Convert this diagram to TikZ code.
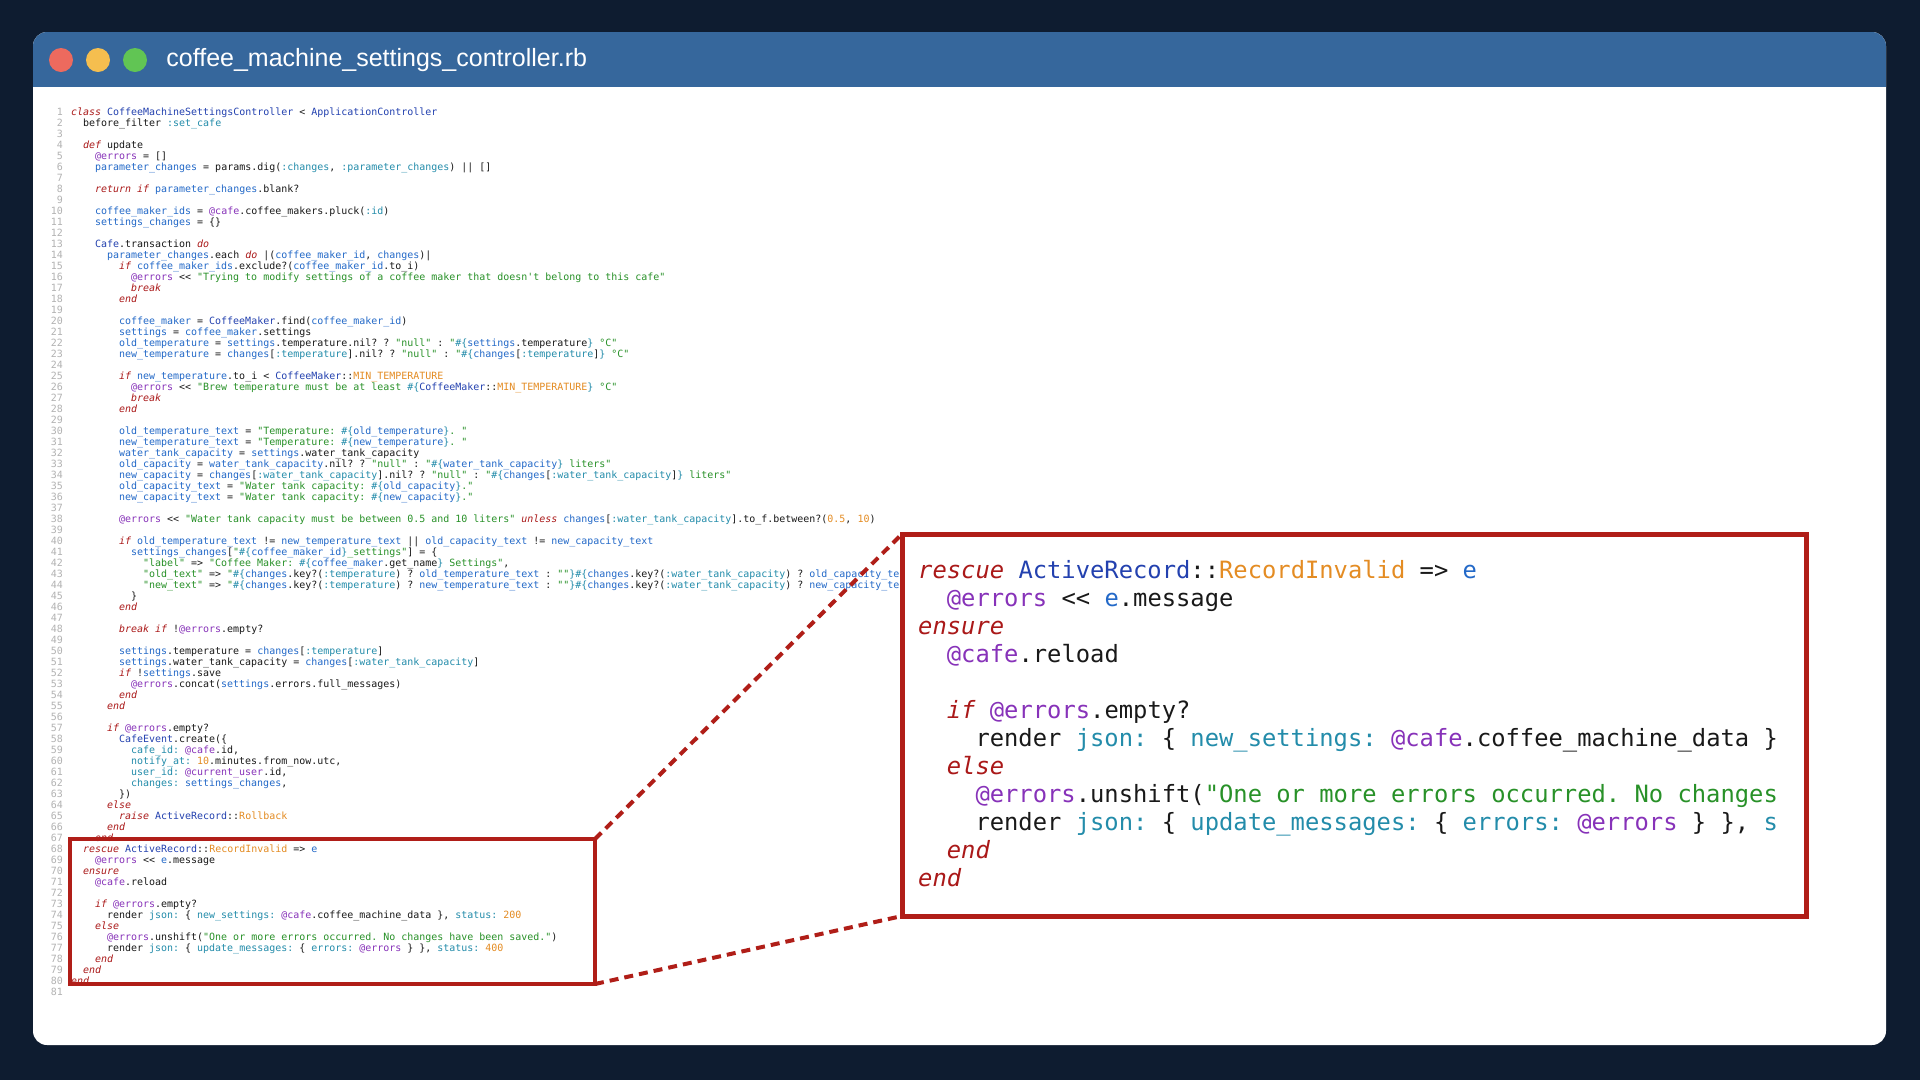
\documentclass[tikz,border=0pt]{standalone}
\usepackage{fontspec}
\setmonofont{DejaVu Sans Mono}
\newfontfamily\titlefont{Liberation Sans}
\usepackage{tikz}
\usetikzlibrary{positioning}
\usepackage{xcolor}
\definecolor{bgnavy}{RGB}{14,28,48}
\definecolor{barblue}{RGB}{54,103,156}
\definecolor{dotred}{RGB}{237,106,94}
\definecolor{dotyellow}{RGB}{245,190,79}
\definecolor{dotgreen}{RGB}{97,197,84}
\definecolor{boxred}{RGB}{176,30,24}
\definecolor{rbplain}{RGB}{25,25,25}
\definecolor{rbgray}{RGB}{178,178,178}
\definecolor{rbkwc}{RGB}{170,25,25}
\definecolor{rbcnc}{RGB}{35,65,175}
\definecolor{rbvrc}{RGB}{35,105,200}
\definecolor{rbsyc}{RGB}{35,140,170}
\definecolor{rbivc}{RGB}{135,50,185}
\definecolor{rbstc}{RGB}{40,145,40}
\definecolor{rbnmc}{RGB}{228,140,35}
% ruby highlighting
\newcommand{\rbkw}[1]{{\color{rbkwc}\itshape\relax#1}}
\newcommand{\rbcn}[1]{{\color{rbcnc}\relax#1}}
\newcommand{\rbvr}[1]{{\color{rbvrc}\relax#1}}
\newcommand{\rbsy}[1]{{\color{rbsyc}\relax#1}}
\newcommand{\rbiv}[1]{{\color{rbivc}\relax#1}}
\newcommand{\rbst}[1]{{\color{rbstc}\relax#1}}
\newcommand{\rbnm}[1]{{\color{rbnmc}\relax#1}}
\newcommand{\rbip}[1]{{\color{rbsyc}\#\{}#1{\color{rbsyc}\}}}

\begin{document}
\catcode`\_=12
\begin{tikzpicture}[x=1pt, y=-1pt,
    dot/.style={circle, inner sep=0pt, minimum size=24pt},
    lineno/.style={anchor=base east, inner sep=0pt, text=rbgray, font=\ttfamily\fontsize{9.97}{11}\selectfont},
    codeline/.style={anchor=base west, inner sep=0pt, text=rbplain, font=\ttfamily\fontsize{9.97}{11}\selectfont},
    zoomline/.style={anchor=base west, inner sep=0pt, text=rbplain, font=\ttfamily\fontsize{23.8}{28}\selectfont},
    srcbox/.style={rectangle, draw=boxred, line width=4pt, inner sep=0pt, outer sep=0pt},
    zoombox/.style={rectangle, draw=boxred, fill=white, line width=5pt, inner sep=0pt, outer sep=0pt},
    zoomlink/.style={boxred, line width=4pt, dash pattern=on 9pt off 6pt}]

\useasboundingbox (0,0) rectangle (1920,1080);

% background and window
\fill[bgnavy] (0,0) rectangle (1920,1080);
\fill[white, rounded corners=14pt] (33,32) rectangle (1886,1045);
\begin{scope}
\clip[rounded corners=14pt] (33,32) rectangle (1886,1045);
\fill[barblue] (33,32) rectangle (1886,87);
\end{scope}

% title bar
\node[dot, fill=dotred] (dot1) at (61,60) {};
\node[dot, fill=dotyellow] (dot2) at (98,60) {};
\node[dot, fill=dotgreen] (dot3) at (135,60) {};
\node[right=19pt of dot3, inner sep=0pt, text=white, font=\titlefont\fontsize{25}{30}\selectfont] (title) {coffee_machine_settings_controller.rb};

% line numbers
\foreach \i in {1,...,81}
    \node[lineno] (n\i) at (63, {104.5+11*\i}) {\i};

% source
\node[codeline] (c1) at (71,115.5) {\rbkw{class} \rbcn{CoffeeMachineSettingsController} < \rbcn{ApplicationController}};
\node[codeline] (c2) at (83,126.5) {before_filter \rbsy{:set_cafe}};
\node[codeline] (c4) at (83,148.5) {\rbkw{def} update};
\node[codeline] (c5) at (95,159.5) {\rbiv{@errors} = []};
\node[codeline] (c6) at (95,170.5) {\rbvr{parameter_changes} = params.dig(\rbsy{:changes}, \rbsy{:parameter_changes}) || []};
\node[codeline] (c8) at (95,192.5) {\rbkw{return if} \rbvr{parameter_changes}.blank?};
\node[codeline] (c10) at (95,214.5) {\rbvr{coffee_maker_ids} = \rbiv{@cafe}.coffee_makers.pluck(\rbsy{:id})};
\node[codeline] (c11) at (95,225.5) {\rbvr{settings_changes} = \{\}};
\node[codeline] (c13) at (95,247.5) {\rbcn{Cafe}.transaction \rbkw{do}};
\node[codeline] (c14) at (107,258.5) {\rbvr{parameter_changes}.each \rbkw{do} |(\rbvr{coffee_maker_id}, \rbvr{changes})|};
\node[codeline] (c15) at (119,269.5) {\rbkw{if} \rbvr{coffee_maker_ids}.exclude?(\rbvr{coffee_maker_id}.to_i)};
\node[codeline] (c16) at (131,280.5) {\rbiv{@errors} << \rbst{"Trying to modify settings of a coffee maker that doesn't belong to this cafe"}};
\node[codeline] (c17) at (131,291.5) {\rbkw{break}};
\node[codeline] (c18) at (119,302.5) {\rbkw{end}};
\node[codeline] (c20) at (119,324.5) {\rbvr{coffee_maker} = \rbcn{CoffeeMaker}.find(\rbvr{coffee_maker_id})};
\node[codeline] (c21) at (119,335.5) {\rbvr{settings} = \rbvr{coffee_maker}.settings};
\node[codeline] (c22) at (119,346.5) {\rbvr{old_temperature} = \rbvr{settings}.temperature.nil? ? \rbst{"null"} : \rbst{"}\rbip{\rbvr{settings}.temperature}\rbst{ °C"}};
\node[codeline] (c23) at (119,357.5) {\rbvr{new_temperature} = \rbvr{changes}[\rbsy{:temperature}].nil? ? \rbst{"null"} : \rbst{"}\rbip{\rbvr{changes}[\rbsy{:temperature}]}\rbst{ °C"}};
\node[codeline] (c25) at (119,379.5) {\rbkw{if} \rbvr{new_temperature}.to_i < \rbcn{CoffeeMaker}::\rbnm{MIN_TEMPERATURE}};
\node[codeline] (c26) at (131,390.5) {\rbiv{@errors} << \rbst{"Brew temperature must be at least }\rbip{\rbcn{CoffeeMaker}::\rbnm{MIN_TEMPERATURE}}\rbst{ °C"}};
\node[codeline] (c27) at (131,401.5) {\rbkw{break}};
\node[codeline] (c28) at (119,412.5) {\rbkw{end}};
\node[codeline] (c30) at (119,434.5) {\rbvr{old_temperature_text} = \rbst{"Temperature: }\rbip{\rbvr{old_temperature}}\rbst{. "}};
\node[codeline] (c31) at (119,445.5) {\rbvr{new_temperature_text} = \rbst{"Temperature: }\rbip{\rbvr{new_temperature}}\rbst{. "}};
\node[codeline] (c32) at (119,456.5) {\rbvr{water_tank_capacity} = \rbvr{settings}.water_tank_capacity};
\node[codeline] (c33) at (119,467.5) {\rbvr{old_capacity} = \rbvr{water_tank_capacity}.nil? ? \rbst{"null"} : \rbst{"}\rbip{\rbvr{water_tank_capacity}}\rbst{ liters"}};
\node[codeline] (c34) at (119,478.5) {\rbvr{new_capacity} = \rbvr{changes}[\rbsy{:water_tank_capacity}].nil? ? \rbst{"null"} : \rbst{"}\rbip{\rbvr{changes}[\rbsy{:water_tank_capacity}]}\rbst{ liters"}};
\node[codeline] (c35) at (119,489.5) {\rbvr{old_capacity_text} = \rbst{"Water tank capacity: }\rbip{\rbvr{old_capacity}}\rbst{."}};
\node[codeline] (c36) at (119,500.5) {\rbvr{new_capacity_text} = \rbst{"Water tank capacity: }\rbip{\rbvr{new_capacity}}\rbst{."}};
\node[codeline] (c38) at (119,522.5) {\rbiv{@errors} << \rbst{"Water tank capacity must be between 0.5 and 10 liters"} \rbkw{unless} \rbvr{changes}[\rbsy{:water_tank_capacity}].to_f.between?(\rbnm{0.5}, \rbnm{10})};
\node[codeline] (c40) at (119,544.5) {\rbkw{if} \rbvr{old_temperature_text} != \rbvr{new_temperature_text} || \rbvr{old_capacity_text} != \rbvr{new_capacity_text}};
\node[codeline] (c41) at (131,555.5) {\rbvr{settings_changes}[\rbst{"}\rbip{\rbvr{coffee_maker_id}}\rbst{_settings"}] = \{};
\node[codeline] (c42) at (143,566.5) {\rbst{"label"} => \rbst{"Coffee Maker: }\rbip{\rbvr{coffee_maker}.get_name}\rbst{ Settings"},};
\node[codeline] (c43) at (143,577.5) {\rbst{"old_text"} => \rbst{"}\rbip{\rbvr{changes}.key?(\rbsy{:temperature}) ? \rbvr{old_temperature_text} : \rbst{""}}\rbip{\rbvr{changes}.key?(\rbsy{:water_tank_capacity}) ? \rbvr{old_capacity_text}}};
\node[codeline] (c44) at (143,588.5) {\rbst{"new_text"} => \rbst{"}\rbip{\rbvr{changes}.key?(\rbsy{:temperature}) ? \rbvr{new_temperature_text} : \rbst{""}}\rbip{\rbvr{changes}.key?(\rbsy{:water_tank_capacity}) ? \rbvr{new_capacity_text}}};
\node[codeline] (c45) at (131,599.5) {\}};
\node[codeline] (c46) at (119,610.5) {\rbkw{end}};
\node[codeline] (c48) at (119,632.5) {\rbkw{break if} !\rbiv{@errors}.empty?};
\node[codeline] (c50) at (119,654.5) {\rbvr{settings}.temperature = \rbvr{changes}[\rbsy{:temperature}]};
\node[codeline] (c51) at (119,665.5) {\rbvr{settings}.water_tank_capacity = \rbvr{changes}[\rbsy{:water_tank_capacity}]};
\node[codeline] (c52) at (119,676.5) {\rbkw{if} !\rbvr{settings}.save};
\node[codeline] (c53) at (131,687.5) {\rbiv{@errors}.concat(\rbvr{settings}.errors.full_messages)};
\node[codeline] (c54) at (119,698.5) {\rbkw{end}};
\node[codeline] (c55) at (107,709.5) {\rbkw{end}};
\node[codeline] (c57) at (107,731.5) {\rbkw{if} \rbiv{@errors}.empty?};
\node[codeline] (c58) at (119,742.5) {\rbcn{CafeEvent}.create(\{};
\node[codeline] (c59) at (131,753.5) {\rbsy{cafe_id:} \rbiv{@cafe}.id,};
\node[codeline] (c60) at (131,764.5) {\rbsy{notify_at:} \rbnm{10}.minutes.from_now.utc,};
\node[codeline] (c61) at (131,775.5) {\rbsy{user_id:} \rbiv{@current_user}.id,};
\node[codeline] (c62) at (131,786.5) {\rbsy{changes:} \rbvr{settings_changes},};
\node[codeline] (c63) at (119,797.5) {\})};
\node[codeline] (c64) at (107,808.5) {\rbkw{else}};
\node[codeline] (c65) at (119,819.5) {\rbkw{raise} \rbcn{ActiveRecord}::\rbnm{Rollback}};
\node[codeline] (c66) at (107,830.5) {\rbkw{end}};
\node[codeline] (c67) at (95,841.5) {\rbkw{end}};
\node[codeline] (c68) at (83,852.5) {\rbkw{rescue} \rbcn{ActiveRecord}::\rbnm{RecordInvalid} => \rbvr{e}};
\node[codeline] (c69) at (95,863.5) {\rbiv{@errors} << \rbvr{e}.message};
\node[codeline] (c70) at (83,874.5) {\rbkw{ensure}};
\node[codeline] (c71) at (95,885.5) {\rbiv{@cafe}.reload};
\node[codeline] (c73) at (95,907.5) {\rbkw{if} \rbiv{@errors}.empty?};
\node[codeline] (c74) at (107,918.5) {render \rbsy{json:} \{ \rbsy{new_settings:} \rbiv{@cafe}.coffee_machine_data \}, \rbsy{status:} \rbnm{200}};
\node[codeline] (c75) at (95,929.5) {\rbkw{else}};
\node[codeline] (c76) at (107,940.5) {\rbiv{@errors}.unshift(\rbst{"One or more errors occurred. No changes have been saved."})};
\node[codeline] (c77) at (107,951.5) {render \rbsy{json:} \{ \rbsy{update_messages:} \{ \rbsy{errors:} \rbiv{@errors} \} \}, \rbsy{status:} \rbnm{400}};
\node[codeline] (c78) at (95,962.5) {\rbkw{end}};
\node[codeline] (c79) at (83,973.5) {\rbkw{end}};
\node[codeline] (c80) at (71,984.5) {\rbkw{end}};

% highlight and zoom
\node[srcbox, minimum width=525pt, minimum height=145pt] (src) at (332.5,911.5) {};
\node[zoombox, minimum width=904pt, minimum height=382pt] (zoom) at (1354,725) {};
\draw[zoomlink] (src.north east) -- (zoom.north west);
\draw[zoomlink] (src.south east) -- (zoom.south west);

\node[zoomline] (z1) at (918,578) {\rbkw{rescue} \rbcn{ActiveRecord}::\rbnm{RecordInvalid} => \rbvr{e}};
\node[zoomline] (z2) at (946.7,606) {\rbiv{@errors} << \rbvr{e}.message};
\node[zoomline] (z3) at (918,634) {\rbkw{ensure}};
\node[zoomline] (z4) at (946.7,662) {\rbiv{@cafe}.reload};
\node[zoomline] (z6) at (946.7,718) {\rbkw{if} \rbiv{@errors}.empty?};
\node[zoomline] (z7) at (975.3,746) {render \rbsy{json:} \{ \rbsy{new_settings:} \rbiv{@cafe}.coffee_machine_data \}};
\node[zoomline] (z8) at (946.7,774) {\rbkw{else}};
\node[zoomline] (z9) at (975.3,802) {\rbiv{@errors}.unshift(\rbst{"One or more errors occurred. No changes}};
\node[zoomline] (z10) at (975.3,830) {render \rbsy{json:} \{ \rbsy{update_messages:} \{ \rbsy{errors:} \rbiv{@errors} \} \}, \rbsy{s}};
\node[zoomline] (z11) at (946.7,858) {\rbkw{end}};
\node[zoomline] (z12) at (918,886) {\rbkw{end}};

\end{tikzpicture}
\end{document}
